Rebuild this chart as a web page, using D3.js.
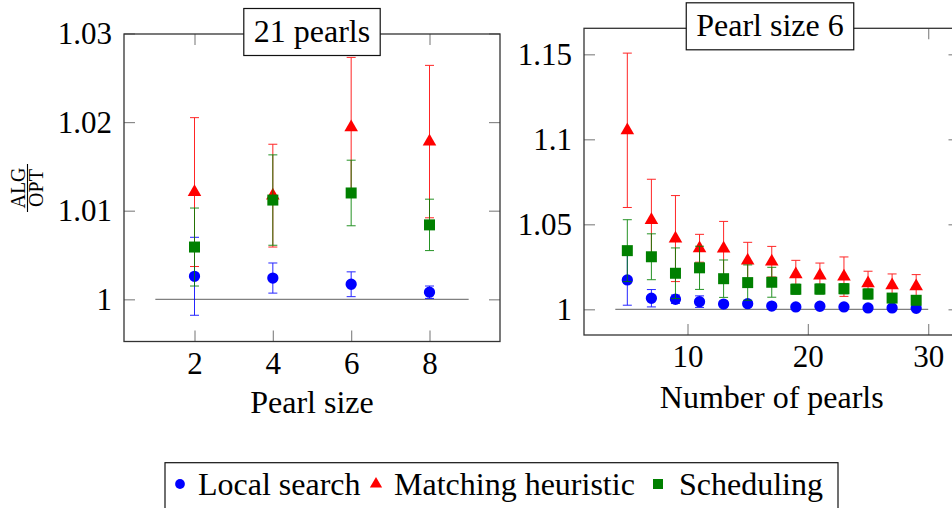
<!DOCTYPE html>
<html>
<head>
<meta charset="utf-8">
<script src="https://cdn.jsdelivr.net/npm/d3@7/dist/d3.min.js"></script>
<style>
body { margin: 0; background: #fff; }
svg { display: block; font-family: "Liberation Serif", "DejaVu Serif", serif; }
</style>
</head>
<body>
<svg id="chart" width="952" height="508"></svg>
<script>
// ---- left panel: 21 pearls, by pearl size ----
const pearlSizes = [2, 4, 6, 8];
const sizeLocal = [1.0026, 1.0024, 1.0017, 1.0008];
const sizeLocalErr = [0.0044, 0.0017, 0.0014, 0.0007];
const sizeMatching = [1.0121, 1.0117, 1.0194, 1.0178];
const sizeMatchingErr = [0.0084, 0.0058, 0.0079, 0.0086];
const sizeSched = [1.0059, 1.0112, 1.0120, 1.0084];
const sizeSchedErr = [0.0044, 0.0051, 0.0037, 0.0029];
const sizeXTicks = [2, 4, 6, 8];
const sizeYTicks = [1, 1.01, 1.02, 1.03];

// ---- right panel: pearl size 6, by number of pearls ----
const pearlCounts = [5, 7, 9, 11, 13, 15, 17, 19, 21, 23, 25, 27, 29];
const countLocal = [1.0173, 1.0065, 1.0059, 1.0045, 1.0031, 1.0033, 1.0019, 1.0014, 1.0018, 1.0014, 1.0008, 1.0008, 1.0006];
const countLocalErr = [0.0149, 0.0051, 0.0025, 0.0034, 0.0010, 0.0010, 0.0010, 0.0008, 0.0008, 0.0008, 0.0006, 0.0006, 0.0005];
const countMatching = [1.1053, 1.0525, 1.0416, 1.0359, 1.0357, 1.0286, 1.0280, 1.0206, 1.0198, 1.0192, 1.0153, 1.0141, 1.0135];
const countMatchingErr = [0.0454, 0.0240, 0.0253, 0.0082, 0.0160, 0.0108, 0.0090, 0.0082, 0.0074, 0.0116, 0.0071, 0.0067, 0.0069];
const countSched = [1.0345, 1.0309, 1.0212, 1.0244, 1.0180, 1.0157, 1.0159, 1.0118, 1.0119, 1.0121, 1.0090, 1.0066, 1.0053];
const countSchedErr = [0.0182, 0.0135, 0.0149, 0.0127, 0.0110, 0.0104, 0.0088, 0.0030, 0.0030, 0.0030, 0.0030, 0.0020, 0.0020];
const countXTicks = [10, 20, 30];
const countYTicks = [1, 1.05, 1.1, 1.15];

const seriesNames = ['Local search', 'Matching heuristic', 'Scheduling'];
const seriesColors = ['#0000ff', '#ff0000', '#008000'];
const seriesShapes = [d3.symbolCircle, d3.symbolTriangle, d3.symbolSquare];
const shapeSizes = [100, 80, 121];

const svg = d3.select('#chart');
const zip = (xs, ys, es) => xs.map((x, i) => ({x: x, y: ys[i], e: es[i]}));

function drawPanel(p) {
	const x = d3.scaleLinear().domain(p.xDomain).range([p.left, p.right]);
	const y = d3.scaleLinear().domain(p.yDomain).range([p.bottom, p.top]);
	const g = svg.append('g');

	// inward ticks on all four sides
	const tick = 11;
	const styleAxis = sel => {
		sel.attr('font-family', null).attr('font-size', null);
		sel.select('.domain').remove();
		sel.selectAll('.tick line').attr('stroke', '#8a8a8a').attr('stroke-width', 1.2);
		sel.selectAll('text').attr('font-size', 31).attr('fill', '#000');
	};
	g.append('g').attr('transform', `translate(0,${p.bottom})`)
		.call(d3.axisBottom(x).tickValues(p.xTicks).tickSizeInner(-tick).tickSizeOuter(0).tickPadding(10).tickFormat(d3.format('d')))
		.call(styleAxis);
	g.append('g').attr('transform', `translate(0,${p.top})`)
		.call(d3.axisTop(x).tickValues(p.xTicks).tickSizeInner(-tick).tickSizeOuter(0).tickFormat(''))
		.call(styleAxis);
	g.append('g').attr('transform', `translate(${p.left},0)`)
		.call(d3.axisLeft(y).tickValues(p.yTicks).tickSizeInner(-tick).tickSizeOuter(0).tickPadding(12).tickFormat(d => String(d)))
		.call(styleAxis);
	g.append('g').attr('transform', `translate(${p.right},0)`)
		.call(d3.axisRight(y).tickValues(p.yTicks).tickSizeInner(-tick).tickSizeOuter(0).tickFormat(''))
		.call(styleAxis);

	// frame
	g.append('rect')
		.attr('x', p.left).attr('y', p.top)
		.attr('width', p.right - p.left).attr('height', p.bottom - p.top)
		.attr('fill', 'none').attr('stroke', '#333').attr('stroke-width', 1.3);

	// y = 1 reference line
	g.append('line')
		.attr('x1', x(p.refLine[0])).attr('x2', x(p.refLine[1]))
		.attr('y1', y(1)).attr('y2', y(1))
		.attr('stroke', '#808080').attr('stroke-width', 1.2);

	// series: error bars, then markers
	p.series.forEach((s, k) => {
		const col = seriesColors[k];
		const sg = g.append('g');
		const bars = sg.selectAll('g.bar').data(s).join('g').attr('class', 'bar')
			.attr('stroke', col).attr('stroke-width', 1).attr('opacity', 0.85);
		bars.append('line')
			.attr('x1', d => x(d.x)).attr('x2', d => x(d.x))
			.attr('y1', d => y(d.y - d.e)).attr('y2', d => y(d.y + d.e));
		[-1, 1].forEach(sgn => {
			bars.append('line')
				.attr('x1', d => x(d.x) - 4.5).attr('x2', d => x(d.x) + 4.5)
				.attr('y1', d => y(d.y + sgn * d.e)).attr('y2', d => y(d.y + sgn * d.e));
		});
		sg.selectAll('path.mark').data(s).join('path').attr('class', 'mark')
			.attr('d', d3.symbol(seriesShapes[k], shapeSizes[k]))
			.attr('transform', d => `translate(${x(d.x)},${y(d.y)})`)
			.attr('fill', col);
	});

	// x label
	g.append('text')
		.attr('x', (p.left + p.right) / 2).attr('y', p.bottom + p.xLabelOffset)
		.attr('text-anchor', 'middle').attr('font-size', 32)
		.text(p.xLabel);

	// title box across the top edge
	const cx = p.titleX;
	const cy = p.top - 2;
	const tg = g.append('g');
	const tt = tg.append('text')
		.attr('x', cx).attr('y', cy + 9.5)
		.attr('text-anchor', 'middle').attr('font-size', 32)
		.text(p.title);
	const w = tt.node().getComputedTextLength() + 20;
	tg.insert('rect', 'text')
		.attr('x', cx - w / 2).attr('y', cy - 23.5)
		.attr('width', w).attr('height', 47)
		.attr('fill', '#fff').attr('stroke', '#111').attr('stroke-width', 1.2);
}

drawPanel({
	left: 124, right: 500, top: 34, bottom: 341.5,
	xDomain: [0.2, 9.8], yDomain: [0.99524, 1.02994],
	xTicks: sizeXTicks, yTicks: sizeYTicks, refLine: [1, 9],
	title: '21 pearls', titleX: 312, xLabel: 'Pearl size', xLabelOffset: 71,
	series: [
		zip(pearlSizes, sizeLocal, sizeLocalErr),
		zip(pearlSizes, sizeMatching, sizeMatchingErr),
		zip(pearlSizes, sizeSched, sizeSchedErr)
	]
});

drawPanel({
	left: 584, right: 959.5, top: 28.3, bottom: 335,
	xDomain: [1.4, 32.6], yDomain: [0.98488, 1.1653],
	xTicks: countXTicks, yTicks: countYTicks, refLine: [4, 30],
	title: 'Pearl size 6', titleX: 770, xLabel: 'Number of pearls', xLabelOffset: 73,
	series: [
		zip(pearlCounts, countLocal, countLocalErr),
		zip(pearlCounts, countMatching, countMatchingErr),
		zip(pearlCounts, countSched, countSchedErr)
	]
});

// y label: ALG / OPT fraction, rotated
const yl = svg.append('g').attr('transform', 'translate(27.5,188) rotate(-90)');
yl.append('text').attr('x', 0).attr('y', -3).attr('text-anchor', 'middle').attr('font-size', 20).text('ALG');
yl.append('line').attr('x1', -24).attr('x2', 24).attr('y1', 0).attr('y2', 0).attr('stroke', '#000').attr('stroke-width', 1.1);
yl.append('text').attr('x', 0).attr('y', 15).attr('text-anchor', 'middle').attr('font-size', 20).text('OPT');

// legend
const legendX = [180, 376, 658];
const legendTextX = [198, 394, 679];
const lg = svg.append('g');
lg.append('rect').attr('x', 165).attr('y', 462.7).attr('width', 673).attr('height', 60)
	.attr('fill', '#fff').attr('stroke', '#111').attr('stroke-width', 1.2);
seriesNames.forEach((name, k) => {
	lg.append('path')
		.attr('d', d3.symbol(seriesShapes[k], [75, 65, 100][k]))
		.attr('transform', `translate(${legendX[k]},484)`)
		.attr('fill', seriesColors[k]);
	lg.append('text').attr('x', legendTextX[k]).attr('y', 495).attr('font-size', 32).text(name);
});
</script>
</body>
</html>
